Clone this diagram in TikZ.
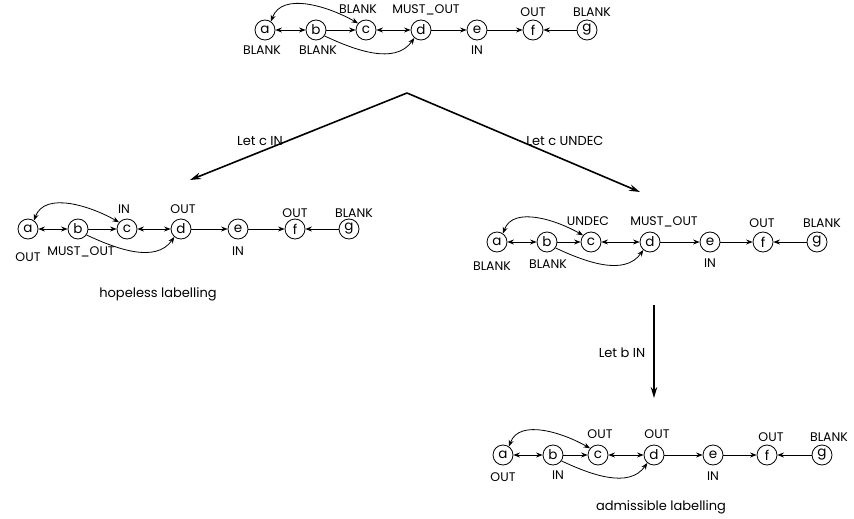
\documentclass[tikz,border=0pt]{standalone}
\usepackage{fontspec}
\setmainfont{Poppins}
\usetikzlibrary{arrows.meta}

% edges shared by every copy of the argument graph; #1 is the node prefix
\newcommand\argedges[1]{%
  \draw[bied] (#1a) -- (#1b);
  \draw[ed]   (#1b) -- (#1c);
  \draw[bied] (#1c) -- (#1d);
  \draw[ed]   (#1d) -- (#1e);
  \draw[ed]   (#1e) -- (#1f);
  \draw[ed]   (#1g) -- (#1f);
  \draw[bied] (#1a.55) to[out=70,in=150,looseness=0.95] (#1c.140);
  \draw[ed]   (#1b.-35) to[out=-25,in=-125,looseness=0.95] (#1d.-130);
}

\begin{document}
\begin{tikzpicture}[x=1pt,y=-1pt,
  st/.style={circle,draw,line width=0.8pt,minimum size=20pt,inner sep=0pt,
    font=\fontsize{13.5}{13.5}\selectfont},
  lbl/.style={inner sep=0pt,anchor=base,font=\fontsize{12.5}{12.5}\selectfont},
  caption/.style={inner sep=0pt,anchor=base,font=\fontsize{13}{13}\selectfont},
  ed/.style={line width=0.8pt,-{Stealth[length=6.5pt,width=5pt]}},
  bied/.style={line width=0.8pt,{Stealth[length=6.5pt,width=5pt]}-{Stealth[length=6.5pt,width=5pt]}},
  big/.style={line width=1.6pt,-{Stealth[length=11pt,width=6.5pt]}}]
\useasboundingbox (0,0) rectangle (854,519);

% ---- initial labelling ----
\foreach \n/\x in {a/265,b/316,c/366,d/421,e/477,f/533,g/587}
  \node[st] (t\n) at (\x,30) {\n};
\argedges{t}
\node[lbl] (tla) at (262,55) {BLANK};
\node[lbl] (tlb) at (318,55) {BLANK};
\node[lbl] (tlc) at (358,14) {BLANK};
\node[lbl] (tld) at (426,14) {MUST\_OUT};
\node[lbl] (tle) at (477,55) {IN};
\node[lbl] (tlf) at (533,17) {OUT};
\node[lbl] (tlg) at (592,17) {BLANK};

% ---- branch: c IN ----
\foreach \n/\x in {a/28,b/78,c/127,d/181,e/238,f/295,g/349}
  \node[st] (l\n) at (\x,229) {\n};
\argedges{l}
\node[lbl] (lla) at (28,261) {OUT};
\node[lbl] (llb) at (81,255) {MUST\_OUT};
\node[lbl] (llc) at (124,213) {IN};
\node[lbl] (lld) at (183,213) {OUT};
\node[lbl] (lle) at (238,255) {IN};
\node[lbl] (llf) at (295,217) {OUT};
\node[lbl] (llg) at (354,217) {BLANK};
\node[caption] (hopeless) at (158,297) {hopeless labelling};

% ---- branch: c UNDEC ----
\foreach \n/\x in {a/497,b/547,c/591,d/650,e/710,f/763,g/817}
  \node[st] (r\n) at (\x,242) {\n};
\argedges{r}
\node[lbl] (rla) at (492,270) {BLANK};
\node[lbl] (rlb) at (548,268) {BLANK};
\node[lbl] (rlc) at (588,225) {UNDEC};
\node[lbl] (rld) at (664,225) {MUST\_OUT};
\node[lbl] (rle) at (710,267) {IN};
\node[lbl] (rlf) at (762,227) {OUT};
\node[lbl] (rlg) at (822,227) {BLANK};

% ---- then b IN ----
\foreach \n/\x in {a/503,b/553,c/598,d/654,e/713,f/767,g/822}
  \node[st] (b\n) at (\x,455) {\n};
\argedges{b}
\node[lbl] (bla) at (503,481) {OUT};
\node[lbl] (blb) at (558,479) {IN};
\node[lbl] (blc) at (600,438) {OUT};
\node[lbl] (bld) at (657,438) {OUT};
\node[lbl] (ble) at (713,480) {IN};
\node[lbl] (blf) at (771,441) {OUT};
\node[lbl] (blg) at (829,441) {BLANK};
\node[caption] (admissible) at (661,510) {admissible labelling};

% ---- search steps ----
\coordinate (fork) at (407,93);
\coordinate (leftend) at (190,180);
\coordinate (rightend) at (640,192);
\coordinate (downtop) at (654,305);
\coordinate (downend) at (654,398);
\draw[big] (fork) -- (leftend);
\draw[big] (fork) -- (rightend);
\draw[big] (downtop) -- (downend);
\node[caption] (stepl) at (260,145) {Let c IN};
\node[caption] (stepr) at (565,145) {Let c UNDEC};
\node[caption] (stepd) at (622,357) {Let b IN};
\end{tikzpicture}
\end{document}
